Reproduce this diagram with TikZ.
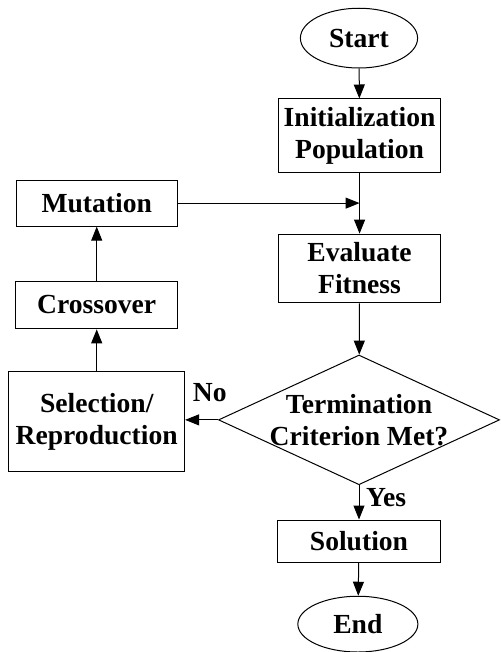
\documentclass[tikz,border=0pt]{standalone}
\usepackage{fontspec}
\setmainfont{Liberation Serif}
\usetikzlibrary{shapes.geometric,arrows.meta}

\tikzset{
  block/.style={draw, rectangle, align=center, inner sep=0pt},
  term/.style={draw, ellipse, inner sep=0pt},
  decide/.style={draw, diamond, aspect=2.16, align=center, inner sep=-1.5pt},
  flow/.style={-{Triangle[length=7pt,width=5.5pt]}},
}

\begin{document}
\begin{tikzpicture}[font=\fontsize{13.8}{16}\selectfont\bfseries, line width=0.5pt]
    \useasboundingbox (0,0) rectangle (8.80,-11.46);
    % main column
    \node [term, minimum width=2.06cm, minimum height=1.05cm] (start) at (6.31,-0.67) {Start};
    \node [block, minimum width=2.86cm, minimum height=1.30cm] (init) at (6.32,-2.39) {Initialization\\Population};
    \node [block, minimum width=2.86cm, minimum height=1.21cm] (eval) at (6.32,-4.72) {Evaluate\\Fitness};
    \node [decide, minimum width=4.94cm, minimum height=2.28cm] (crit) at (6.31,-7.38) {Termination\\Criterion Met?};
    \node [block, minimum width=2.85cm, minimum height=0.74cm] (sol) at (6.31,-9.51) {Solution};
    \node [term, minimum width=2.11cm, minimum height=0.98cm] (end) at (6.29,-10.97) {End};
    % loop column
    \node [block, minimum width=3.09cm, minimum height=1.77cm] (sel) at (1.70,-7.41) {Selection/\\Reproduction};
    \node [block, minimum width=2.85cm, minimum height=0.84cm] (cross) at (1.70,-5.36) {Crossover};
    \node [block, minimum width=2.83cm, minimum height=0.81cm] (mut) at (1.70,-3.57) {Mutation};
    \coordinate (join) at (init.south |- mut.east);

    \draw [flow] (start) -- (init);
    \draw [flow] (init) -- (eval);
    \draw [flow] (eval) -- (crit);
    \draw [flow] (crit.south) -- node [right, pos=0.36] (yes) {Yes} (sol.north);
    \draw [flow] (sol) -- (end);
    \draw [flow] (crit.west) -- node [above, pos=0.25, yshift=5.5pt] (no) {No} (sel.east |- crit.west);
    \draw [flow] (sel) -- (cross);
    \draw [flow] (cross) -- (mut);
    \draw [flow] (mut.east) -- (join);
\end{tikzpicture}
\end{document}
